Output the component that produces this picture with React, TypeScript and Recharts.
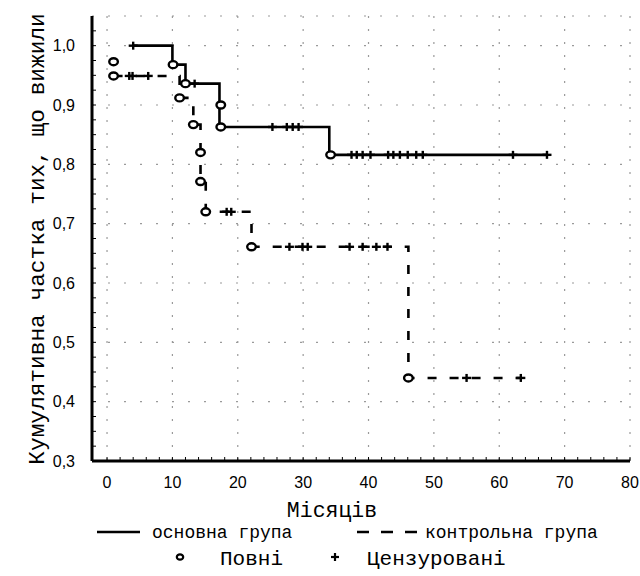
import React from 'react';
import { ComposedChart, Line, Scatter, XAxis, YAxis, CartesianGrid, Legend } from 'recharts';

// ---- data (time in months, cumulative survival proportion) ----
const mainCurve = [
  { t: 4, s: 1.0 },
  { t: 10, s: 0.968 },
  { t: 12, s: 0.936 },
  { t: 17.2, s: 0.9 },
  { t: 17.2, s: 0.863 },
  { t: 34, s: 0.816 },
  { t: 67.3, s: 0.816 },
];
const mainEvents = [
  { t: 10.1, s: 0.968 },
  { t: 12, s: 0.936 },
  { t: 17.4, s: 0.9 },
  { t: 17.4, s: 0.863 },
  { t: 34.2, s: 0.816 },
];
const mainCensored = [
  { t: 4, s: 1.0 },
  { t: 13.4, s: 0.936 },
  { t: 25.3, s: 0.863 }, { t: 27.5, s: 0.863 }, { t: 28.4, s: 0.863 }, { t: 29.3, s: 0.863 },
  { t: 37.4, s: 0.816 }, { t: 38.2, s: 0.816 }, { t: 39.1, s: 0.816 }, { t: 40.3, s: 0.816 },
  { t: 43.0, s: 0.816 }, { t: 43.8, s: 0.816 }, { t: 44.8, s: 0.816 }, { t: 46.0, s: 0.816 },
  { t: 47.3, s: 0.816 }, { t: 48.3, s: 0.816 }, { t: 62.1, s: 0.816 }, { t: 67.3, s: 0.816 },
];

const controlCurve = [
  { t: 1.0, s: 0.949 },
  { t: 11.1, s: 0.912 },
  { t: 13.2, s: 0.867 },
  { t: 14.3, s: 0.82 },
  { t: 14.3, s: 0.771 },
  { t: 15.1, s: 0.72 },
  { t: 22.1, s: 0.661 },
  { t: 46.1, s: 0.44 },
  { t: 63.3, s: 0.44 },
];
const controlEvents = [
  { t: 1.0, s: 0.973 },
  { t: 1.0, s: 0.949 },
  { t: 11.1, s: 0.912 },
  { t: 13.2, s: 0.867 },
  { t: 14.3, s: 0.82 },
  { t: 14.3, s: 0.771 },
  { t: 15.1, s: 0.72 },
  { t: 22.1, s: 0.661 },
  { t: 46.1, s: 0.44 },
];
const controlCensored = [
  { t: 3.4, s: 0.949 }, { t: 3.9, s: 0.949 }, { t: 6.3, s: 0.949 },
  { t: 18.3, s: 0.72 }, { t: 19.0, s: 0.72 },
  { t: 27.9, s: 0.661 }, { t: 29.9, s: 0.661 }, { t: 30.7, s: 0.661 },
  { t: 37.1, s: 0.661 }, { t: 39.1, s: 0.661 }, { t: 41.2, s: 0.661 }, { t: 42.9, s: 0.661 },
  { t: 55.0, s: 0.44 }, { t: 63.3, s: 0.44 },
];

const xMajorTicks = [0, 10, 20, 30, 40, 50, 60, 70, 80];
const xMinorTicks = [
  0, 2, 4, 6, 8, 10, 12, 14, 16, 18, 20, 22, 24, 26, 28, 30, 32, 34, 36, 38, 40,
  42, 44, 46, 48, 50, 52, 54, 56, 58, 60, 62, 64, 66, 68, 70, 72, 74, 76, 78, 80,
];
const yMajorTicks = [0.3, 0.4, 0.5, 0.6, 0.7, 0.8, 0.9, 1.0];
const yMinorTicks = [
  0.3, 0.325, 0.35, 0.375, 0.4, 0.425, 0.45, 0.475, 0.5, 0.525, 0.55, 0.575, 0.6,
  0.625, 0.65, 0.675, 0.7, 0.725, 0.75, 0.775, 0.8, 0.825, 0.85, 0.875, 0.9, 0.925,
  0.95, 0.975, 1.0, 1.025,
];
const yTickLabels = ['0,3', '0,4', '0,5', '0,6', '0,7', '0,8', '0,9', '1,0'];

const yLabel = 'Кумулятивна частка тих, що вижили';
const xLabel = 'Місяців';
const mainName = 'основна група';
const controlName = 'контрольна група';
const eventName = 'Повні';
const censoredName = 'Цензуровані';

const X_DOMAIN: [number, number] = [-2.3, 80];
const Y_DOMAIN: [number, number] = [0.3, 1.05];

const MONO = '"Liberation Mono", "Courier New", monospace';
const SANS = '"Liberation Sans", Arial, sans-serif';

const XTick = (props: any) => {
  const { x, y, payload } = props;
  const i = xMajorTicks.indexOf(payload.value);
  if (i < 0) return <g />;
  return (
    <text x={x} y={y + 25} textAnchor="middle" dominantBaseline="central" fontFamily={SANS} fontSize={16} fill="#000">
      {String(xMajorTicks[i])}
    </text>
  );
};

const YTick = (props: any) => {
  const { x, y, payload } = props;
  const i = yMajorTicks.indexOf(payload.value);
  if (i < 0) return <g />;
  return (
    <text x={x - 21} y={y} textAnchor="end" dominantBaseline="central" fontFamily={SANS} fontSize={16} fill="#000">
      {yTickLabels[i]}
    </text>
  );
};

const CircleShape = (props: any) => {
  const { cx, cy } = props;
  if (cx == null || cy == null) return <g />;
  return <ellipse cx={cx} cy={cy} rx={4.3} ry={3.5} fill="#fff" stroke="#000" strokeWidth={2.4} />;
};

const PlusShape = (props: any) => {
  const { cx, cy } = props;
  if (cx == null || cy == null) return <g />;
  return (
    <g stroke="#000" strokeWidth={2.4}>
      <line x1={cx - 4.5} y1={cy} x2={cx + 4.5} y2={cy} />
      <line x1={cx} y1={cy - 4} x2={cx} y2={cy + 4} />
    </g>
  );
};

const LegendContent = () => (
  <svg width={640} height={64} style={{ display: 'block' }}>
    <line x1={97} y1={20} x2={140} y2={20} stroke="#000" strokeWidth={2.4} />
    <text x={152} y={26} fontFamily={MONO} fontSize={18} fill="#000">{mainName}</text>
    <line x1={357} y1={20} x2={418} y2={20} stroke="#000" strokeWidth={2.4} strokeDasharray="12 12" />
    <text x={425} y={26} fontFamily={MONO} fontSize={18} fill="#000">{controlName}</text>
    <ellipse cx={180} cy={45} rx={3.2} ry={2.7} fill="#fff" stroke="#000" strokeWidth={2.2} />
    <text x={220} y={53} fontFamily={MONO} fontSize={21} fill="#000">{eventName}</text>
    <g stroke="#000" strokeWidth={2.2}>
      <line x1={331} y1={45} x2={339} y2={45} />
      <line x1={335} y1={41} x2={335} y2={49} />
    </g>
    <text x={367} y={53} fontFamily={MONO} fontSize={21} fill="#000">{censoredName}</text>
  </svg>
);

export default function App() {
  return (
    <div style={{ position: 'absolute', left: 0, top: 0, width: 640, height: 576, background: '#fff' }}>
      <ComposedChart width={640} height={576} margin={{ top: 16, right: 10, bottom: 0, left: 0 }}>
        <XAxis
          xAxisId="grid"
          type="number"
          dataKey="t"
          domain={X_DOMAIN}
          allowDataOverflow
          ticks={xMajorTicks}
          hide
        />
        <YAxis
          yAxisId="grid"
          type="number"
          dataKey="s"
          domain={Y_DOMAIN}
          allowDataOverflow
          ticks={yMajorTicks}
          hide
        />
        <CartesianGrid xAxisId="grid" yAxisId="grid" vertical={false} stroke="#9a9a9a" strokeWidth={1.2} strokeDasharray="2 14" />
        <CartesianGrid xAxisId="grid" yAxisId="grid" horizontal={false} stroke="#9a9a9a" strokeWidth={1.2} strokeDasharray="2 11" />
        <XAxis
          type="number"
          dataKey="t"
          domain={X_DOMAIN}
          allowDataOverflow
          ticks={xMinorTicks}
          interval={0}
          height={115}
          tickSize={-4}
          tickMargin={0}
          tickLine={{ stroke: '#000', strokeWidth: 1 }}
          axisLine={{ stroke: '#000', strokeWidth: 3 }}
          tick={<XTick />}
          label={(p: any) => (
            <text x={332} y={517} textAnchor="middle" fontFamily={MONO} fontSize={21.5} fill="#000">{xLabel}</text>
          )}
        />
        <XAxis
          xAxisId="top"
          orientation="top"
          type="number"
          dataKey="t"
          domain={X_DOMAIN}
          allowDataOverflow
          ticks={xMinorTicks}
          interval={0}
          height={0}
          tickSize={-4}
          tickMargin={0}
          tick={false}
          tickLine={{ stroke: '#555', strokeWidth: 1 }}
          axisLine={{ stroke: '#777', strokeWidth: 1.5 }}
        />
        <YAxis
          type="number"
          dataKey="s"
          domain={Y_DOMAIN}
          allowDataOverflow
          ticks={yMinorTicks}
          interval={0}
          width={92}
          tickSize={-4}
          tickMargin={0}
          tickLine={{ stroke: '#000', strokeWidth: 1 }}
          axisLine={{ stroke: '#000', strokeWidth: 3 }}
          tick={<YTick />}
          label={(p: any) => (
            <text x={44} y={239} transform="rotate(-90, 44, 239)" textAnchor="middle" fontFamily={MONO} fontSize={22.8} fill="#000">{yLabel}</text>
          )}
        />
        <YAxis
          yAxisId="right"
          orientation="right"
          type="number"
          dataKey="s"
          domain={Y_DOMAIN}
          allowDataOverflow
          ticks={yMinorTicks}
          interval={0}
          width={0}
          tickSize={-4}
          tickMargin={0}
          tick={false}
          tickLine={{ stroke: '#555', strokeWidth: 1 }}
          axisLine={{ stroke: '#777', strokeWidth: 1.5 }}
        />
        <Line
          data={mainCurve}
          dataKey="s"
          type="stepAfter"
          stroke="#000"
          strokeWidth={2.6}
          dot={false}
          activeDot={false}
          isAnimationActive={false}
          name={mainName}
        />
        <Line
          data={controlCurve}
          dataKey="s"
          type="stepAfter"
          stroke="#000"
          strokeWidth={2.6}
          strokeDasharray="9 13"
          dot={false}
          activeDot={false}
          isAnimationActive={false}
          name={controlName}
        />
        <Scatter data={mainCensored} dataKey="s" shape={<PlusShape />} isAnimationActive={false} name="mc" />
        <Scatter data={controlCensored} dataKey="s" shape={<PlusShape />} isAnimationActive={false} name="cc" />
        <Scatter data={mainEvents} dataKey="s" shape={<CircleShape />} isAnimationActive={false} name="me" />
        <Scatter data={controlEvents} dataKey="s" shape={<CircleShape />} isAnimationActive={false} name="ce" />
        <Legend
          layout="horizontal"
          verticalAlign="middle"
          align="center"
          content={() => <LegendContent />}
          wrapperStyle={{ position: 'absolute', top: 512, left: 0, width: 640, height: 64 }}
        />
      </ComposedChart>
    </div>
  );
}
